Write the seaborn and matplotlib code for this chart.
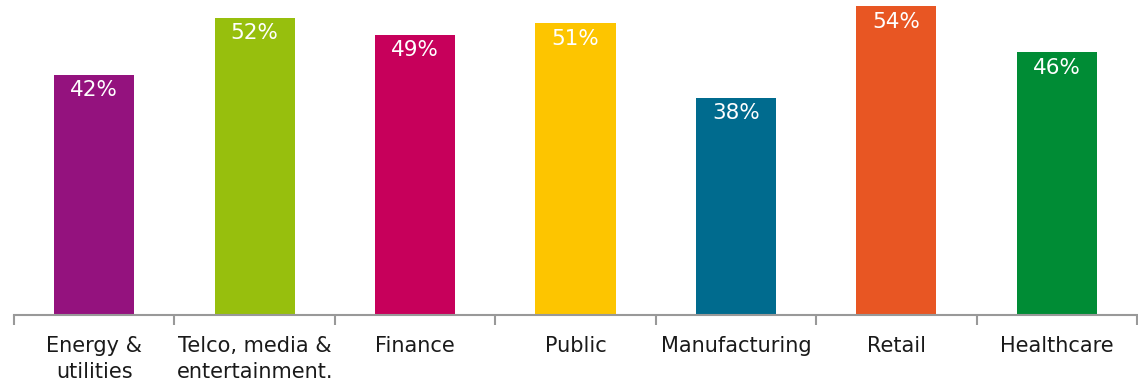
import matplotlib
matplotlib.use('Agg')
import matplotlib.pyplot as plt
import seaborn as sns
import pandas as pd

# chart data
categories = [
    'Energy &\nutilities',
    'Telco, media &\nentertainment.',
    'Finance',
    'Public',
    'Manufacturing',
    'Retail',
    'Healthcare',
]
shares = [42, 52, 49, 51, 38, 54, 46]
bar_colors = ['#94127E', '#97BF0D', '#C7005B', '#FDC500',
              '#006B8E', '#E85623', '#008C35']

df = pd.DataFrame({'Sector': categories, 'Share': shares})

sns.set_style('white')
plt.rcParams['font.family'] = ['DejaVu Sans']

fig = plt.figure(figsize=(11.38, 3.8), dpi=100)
ax = fig.add_axes([14 / 1138, 65 / 380, 1123 / 1138, 315 / 380])

sns.barplot(
    data=df,
    x='Sector',
    y='Share',
    hue='Sector',
    palette=bar_colors,
    width=0.5,
    legend=False,
    saturation=1,
    linewidth=0,
    ax=ax
)

# value labels inside the top of each bar
for i, v in enumerate(shares):
    ax.annotate(
        f'{v}%',
        (i, v),
        xytext=(0, -4),
        textcoords='offset points',
        ha='center',
        va='top',
        color='white',
        fontsize=15.5
    )

ax.set_xlim(-0.5, len(categories) - 0.5)
ax.set_ylim(0, 55.1)

ax.set_xlabel('')
ax.set_ylabel('')
ax.set_yticks([])

for side in ['left', 'top', 'right']:
    ax.spines[side].set_visible(False)
ax.spines['bottom'].set_color('#999999')
ax.spines['bottom'].set_linewidth(1.5)

# labels at centres, tick marks at category boundaries
ax.set_xticks(range(len(categories)))
ax.set_xticklabels(categories, fontsize=15, color='#1a1a1a',
                   linespacing=1.4)
ax.tick_params(axis='x', which='major', length=0, pad=15)
ax.set_xticks([i - 0.5 for i in range(len(categories) + 1)], minor=True)
ax.tick_params(axis='x', which='minor', length=7, width=1.5,
               color='#999999', bottom=True)

fig.savefig('out.png', dpi=100)
